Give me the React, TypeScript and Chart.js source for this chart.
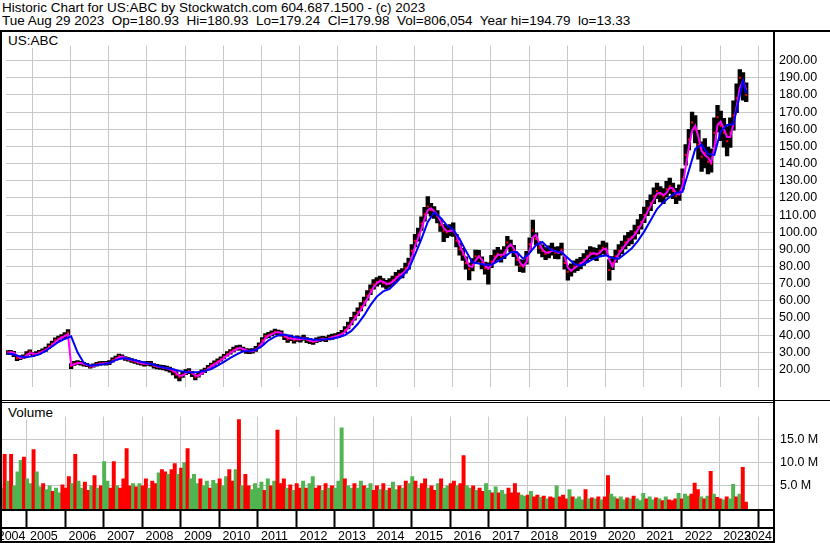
import React, { useEffect, useRef } from "react";
import { Chart, registerables } from "chart.js";

Chart.register(...registerables);

// ---------- DATA (monthly samples, first sample = May 2004) ----------
const firstMonth = 2004.35;

const closes = [
  30, 30.2, 29.5, 26.5, 26.8, 27.5, 28.8, 30.5, 28.5, 29, 30, 30.8,
  31.7, 33.5, 35, 37, 38, 39, 39.8, 41.5, 22, 23.5, 24, 23.6,
  23, 22.5, 21.5, 22.2, 23, 23.5, 23.6, 23.6, 23.8, 25.5, 26.5, 27.8,
  27.2, 26.3, 25.8, 25.2, 24.6, 24, 23.6, 23.2, 23.5, 23.4, 22, 21.6,
  21.3, 21, 20.6, 20, 18.8, 17, 15.5, 17, 18.5, 19, 17.5, 15.5,
  17, 18.5, 19.5, 21, 22.5, 23.6, 24.8, 26, 27.5, 29, 30.3, 31.5,
  32.4, 32.5, 31.5, 30.8, 30.6, 30.8, 32, 34, 37, 39.5, 40, 41,
  42, 41.5, 41, 39, 37.5, 38.5, 37, 38, 37.5, 38.5, 37, 36.5,
  36, 37, 37.5, 38, 37.5, 38.5, 39, 39.5, 40, 41, 43, 45.5,
  48, 51, 53.5, 56.5, 59.5, 63, 66.5, 69.5, 71, 72, 70.5, 69.5,
  70.5, 72, 74, 75.5, 76, 79, 81.5, 89, 95, 98.5, 105, 110.5,
  115, 113, 111.5, 109, 104, 101, 100, 101, 101.5, 95, 90, 87,
  82, 78.5, 81, 86, 86, 82, 79, 78.5, 83, 86, 87.5, 86,
  88, 94, 92, 89, 84, 80.5, 80, 85, 93, 101, 96, 91,
  89, 87.5, 88.5, 90, 88, 88, 90, 82, 77, 78, 80, 81,
  82, 84, 86, 88, 87.5, 87, 89, 91, 90, 78, 82, 86,
  89, 91, 94, 96, 97, 100, 103, 106, 110, 114, 117, 121,
  124, 122, 121, 125, 127, 124, 121, 123, 131, 145, 154, 164,
  160, 151, 144, 146, 141, 140, 158, 167, 162, 158, 153, 158,
  168, 178, 190, 186, 180,
];

const highs = [
  31, 31.2, 30.6, 28, 28, 28.6, 30.5, 31.5, 29.8, 30.4, 31.2, 32,
  33, 35, 36.5, 38.4, 39.5, 40.4, 41.5, 43.2, 23.4, 24.8, 25.2, 24.7,
  24.2, 23.6, 22.7, 23.3, 24.2, 24.6, 24.7, 24.8, 25.2, 26.8, 27.8, 29,
  28.5, 27.6, 27, 26.4, 25.8, 25.3, 24.8, 24.6, 24.8, 24.8, 23.4, 23,
  22.6, 22.4, 22, 21.4, 20.2, 18.8, 17.2, 18.6, 20, 20.5, 19, 17.2,
  18.4, 19.8, 20.8, 22.4, 23.8, 25, 26.2, 27.4, 28.8, 30.4, 31.6, 33,
  34, 34.2, 33, 32.2, 32, 32.2, 33.5, 35.6, 38.6, 41, 41.6, 42.6,
  43.6, 43, 42.5, 40.6, 39.2, 40, 38.6, 39.6, 39, 40, 38.6, 38,
  37.6, 38.4, 39, 39.4, 39, 40, 40.6, 41, 41.6, 42.8, 45, 47.6,
  50.4, 53.4, 56, 59, 62.2, 66, 69.4, 72.4, 73.5, 74.5, 73, 72,
  73, 74.5, 76.6, 78, 78.8, 82, 85, 92.8, 98.8, 102.4, 109, 114.5,
  120.8, 116.8, 115, 112.6, 107.8, 104.6, 103.4, 104.4, 105.4, 98.8, 93.6, 90.6,
  85.6, 82, 84.6, 89.6, 89.4, 85.6, 82.6, 82.2, 86.6, 89.6, 91.2, 89.6,
  91.6, 97.6, 95.4, 92.4, 87.6, 84, 83.6, 88.8, 96.8, 107, 99.6, 94.6,
  92.6, 91, 92, 93.6, 91.4, 91.6, 93.6, 85.8, 80.6, 81.6, 83.4, 84.4,
  85.4, 87.6, 89.6, 91.6, 91, 90.6, 92.6, 94.8, 93.8, 84, 85.8, 89.6,
  92.8, 94.8, 98, 100, 101, 104.2, 107.4, 110.4, 114.6, 118.6, 121.8, 125.8,
  128.6, 126.6, 125.4, 129.6, 131.6, 128.6, 125.6, 127.6, 137, 151, 160, 170,
  168, 159.4, 152.6, 154.6, 149.6, 148.6, 166.6, 174, 170.6, 166.4, 161.6, 166.6,
  176.6, 186.4, 194.8, 193, 187,
];

const lows = [
  28.8, 29, 27.5, 25.2, 25.8, 26.5, 27.8, 28.8, 27.5, 28, 29, 29.8,
  30.6, 32.2, 33.8, 35.6, 36.8, 37.8, 38.6, 40, 20.5, 22.4, 23, 22.6,
  22, 21.6, 20.8, 21.3, 22, 22.6, 22.7, 22.6, 22.8, 24.3, 25.4, 26.6,
  26.2, 25.3, 24.8, 24.2, 23.5, 23, 22.6, 22, 22.4, 22, 20.8, 20.4,
  20, 19.8, 19.2, 18.4, 16.8, 15, 13.3, 15.4, 17, 17.6, 15.8, 14,
  15.6, 17.2, 18.2, 19.8, 21.2, 22.4, 23.6, 24.8, 26.2, 27.8, 29, 30.2,
  31.2, 31.2, 30.2, 29.4, 29.2, 29.5, 30.6, 32.6, 35.4, 38, 38.6, 39.6,
  40.4, 40, 39.4, 37.4, 35.8, 36.8, 35.4, 36.4, 36, 37, 35.6, 35,
  34.6, 35.6, 36.2, 36.6, 36.2, 37.2, 37.6, 38.2, 38.6, 39.6, 41.4, 43.6,
  46, 48.8, 51.4, 54.2, 57, 60.4, 63.6, 66.8, 68.6, 69.6, 68, 67,
  68, 69.6, 71.4, 73, 73.4, 76.2, 78.4, 85.4, 91.4, 94.8, 101, 106.4,
  111, 109.4, 108, 105.4, 100.4, 94.5, 96.8, 97.8, 97.6, 91.4, 86.6, 83.6,
  78.4, 72.2, 77.4, 82.4, 82.6, 78.6, 75.6, 69.8, 79.4, 82.6, 84, 82.6,
  84.6, 90.6, 88.6, 85.8, 80.6, 77, 76.6, 81.4, 89.4, 97.4, 92.6, 87.6,
  85.6, 84, 85, 86.6, 84.6, 84.4, 86.6, 78.4, 72, 74.4, 76.6, 77.6,
  78.6, 80.6, 82.6, 84.6, 84, 83.4, 85.6, 87.4, 86.4, 72, 78.2, 82.4,
  85.4, 87.4, 90.2, 92.2, 93.2, 96, 99, 101.8, 105.6, 109.6, 112.6, 116.6,
  119.6, 117.6, 116.6, 120.6, 122.6, 119.6, 116.6, 118.6, 125, 139, 148, 158,
  152, 142.6, 135.4, 137.4, 134, 135, 149.4, 158.4, 153.4, 149.6, 144.4, 149.4,
  159.4, 169.6, 181.4, 177, 176,
];

const shortAverage = [
  29.8, 30, 29.8, 28, 26.6, 27.1, 28.1, 29.6, 29.4, 28.8, 29.5, 30.4,
  31.2, 32.6, 34.2, 36, 37.5, 38.5, 39.4, 40.6, 22.5, 23, 23.8, 23.8,
  23.3, 22.8, 22, 21.9, 22.6, 23.2, 23.5, 23.6, 23.7, 24.6, 26, 27.1,
  27.5, 26.8, 26, 25.5, 24.9, 24.3, 23.8, 23.4, 23.4, 23.4, 22.7, 21.8,
  21.4, 21.1, 20.8, 20.3, 19.4, 18, 16.3, 16.3, 17.8, 18.8, 18.3, 16.5,
  16.3, 17.8, 19, 20.3, 21.8, 23, 24.2, 25.4, 26.8, 28.2, 29.6, 30.9,
  32, 32.5, 32, 31.2, 30.7, 30.7, 31.4, 33, 35.5, 38.2, 39.8, 40.5,
  41.5, 41.8, 41.2, 40, 38.3, 38, 37.8, 37.5, 37.8, 38, 37.8, 36.8,
  36.3, 36.5, 37.2, 37.8, 37.8, 38, 38.8, 39.2, 39.8, 40.5, 42, 44.2,
  46.8, 49.5, 52.2, 55, 58, 61.2, 64.8, 68, 70.3, 71.5, 71.2, 70,
  70, 71.2, 73, 74.8, 75.8, 77.5, 80.2, 85.2, 92, 96.8, 101.8, 107.8,
  112.8, 114, 112.2, 110.2, 106.5, 102.5, 100.5, 100.5, 101.2, 98.2, 92.5, 88.5,
  84.5, 80.2, 79.8, 83.5, 86, 84, 80.5, 78.8, 80.8, 84.5, 86.8, 86.8,
  87, 91, 93, 90.5, 86.5, 82.2, 80.2, 82.5, 89, 97, 98.5, 93.5,
  90, 88.2, 88, 89.2, 89, 88, 89, 86, 79.5, 77.5, 79, 80.5,
  81.5, 83, 85, 87, 87.8, 87.2, 88, 90, 90.5, 84, 80, 84,
  87.5, 90, 92.5, 95, 96.5, 98.5, 101.5, 104.5, 108, 112, 115.5, 119,
  122.5, 123, 121.5, 123, 126, 125.5, 122.5, 122, 127, 138, 149.5, 159,
  162, 155.5, 147.5, 145, 143.5, 140.5, 149, 162.5, 164.5, 160, 155.5, 155.5,
  163, 173, 184, 188, 183,
];

const longAverage = [
  29.5, null, 28.8, null, 27.6, null, 27.2, null, 27.8, null, 28.8, null,
  30.8, null, 33.4, null, 36, null, 37.8, null, 39.3, null, 30, null,
  23.8, null, 22.2, null, 22.6, null, 23.1, null, 23.8, null, 25.5, null,
  26.5, null, 26.3, null, 25.4, null, 24.5, null, 23.6, null, 22.8, null,
  21.6, null, 20.7, null, 20.1, null, 19.2, null, 18.6, null, 18.3, null,
  18.5, null, 19.2, null, 20.3, null, 22.3, null, 24.5, null, 26.8, null,
  28.8, null, 30.6, null, 30.8, null, 31.5, null, 33.8, null, 37, null,
  39.2, null, 40.4, null, 40, null, 39, null, 38.3, null, 37.9, null,
  37.5, null, 37.3, null, 37.6, null, 38.1, null, 38.8, null, 40, null,
  42.5, null, 46.5, null, 51.5, null, 57.5, null, 62.5, null, 65.5, null,
  67, null, 70.5, null, 74.5, null, 78.5, null, 87, null, 96, null,
  106, null, 111.5, null, 108.5, null, 104, null, 101.5, null, 96, null,
  89, null, 82.5, null, 81.8, null, 81, null, 81, null, 83.2, null,
  85.5, null, 88.3, null, 88.5, null, 84.5, null, 88, null, 92.5, null,
  94.3, null, 90.5, null, 88.8, null, 88.4, null, 85, null, 81.5, null,
  80.5, null, 82.5, null, 84.5, null, 86, null, 86.5, null, 85, null,
  84.5, null, 87.5, null, 90.5, null, 95, null, 100.5, null, 107, null,
  113.5, null, 117.5, null, 120.5, null, 123, null, 123.5, null, 136, null,
  148.5, null, 151, null, 145.5, null, 145, null, 159, null, 162.5, null,
  163, null, 180, 188, 181,
];

// volume in millions of shares
const volumes = [
  4.5, 11.8, 6, 11.8, 5, 8, 10.5, 11.2, 6.5, 5.5, 12.8, 8,
  4.8, 5.5, 4.2, 5, 3.8, 4.5, 3.5, 5.2, 4.5, 7, 5.5, 11.8,
  6, 4.5, 5.8, 4, 5, 7.2, 4.5, 5, 10.2, 6, 4.5, 10.2,
  5, 4.5, 6.5, 13, 5, 5.5, 4.8, 5.5, 5, 6.5, 4.5, 6,
  5.5, 7.8, 8.5, 8, 7.5, 8.5, 9.8, 7.5, 8.8, 10, 13, 6.5,
  7.5, 5.5, 6.5, 5, 6, 4.5, 6.2, 5.5, 6.5, 5, 7, 8.5,
  6, 8.5, 19.3, 5, 7.5, 5, 4.2, 5.5, 4.5, 5.8, 4, 6.5,
  5, 6, 17, 5.5, 6.5, 4.5, 5.2, 4, 5.5, 4.5, 6, 4.5,
  5.5, 7, 4.5, 5, 4, 5.5, 4.5, 5, 4.5, 6, 17.5, 6.5,
  5, 4.5, 5.5, 4.5, 6, 5, 4.5, 5.5, 4, 5, 4.2, 5.5,
  4, 4.5, 5.8, 4.2, 5, 4.5, 6, 5.5, 7, 6, 4.5, 5.5,
  6.5, 4.5, 5, 4, 5.5, 6.5, 4.5, 5, 5.5, 6, 5, 5.5,
  11.5, 5, 4.5, 5, 4, 4.5, 3.8, 5.5, 4, 3.5, 4.8, 3.5,
  4, 3.2, 4.5, 3.5, 5.5, 3.5, 3, 2.8, 3, 3.8, 2.6, 3,
  2.5, 2.8, 2.2, 2.6, 2.4, 5, 2.6, 3, 2.2, 4.2, 2.6, 2.2,
  2.6, 2, 4.2, 2.2, 2.4, 2.2, 2.6, 2, 2.6, 7.2, 3.2, 2.6,
  2.2, 2.6, 2, 2.4, 2.2, 2.8, 2.2, 1.8, 3.4, 2.2, 2.6, 2,
  2.4, 2.2, 1.8, 2.6, 2, 1.8, 2.2, 3.4, 2.2, 3.2, 2.8, 3.2,
  5.6, 4.2, 2.6, 2.2, 2.8, 8.1, 3.2, 2.5, 2.2, 2, 2.6, 2.2,
  5.3, 2.6, 3.2, 9, 1.5,
];

// direction of each sample: G = up, R = down
const volumeDirection = (
  "GRGRGGGRGG" + "RGGRGGRGGR" + "RRGRGGRRGR" + "GRGGRRGRRR" + "RGRGRRGRRG" +
  "RRGRRGRGRG" + "GGRGGRGGRG" + "GRRGRGRRGG" + "GGRGRGRRRG" + "RGRRGRGGRR" +
  "GRGRGGGRGG" + "RGGRGGRRGR" + "GRGGRGRGGR" + "GRRGRRGRGG" + "RRGRRGGRGR" +
  "RGGRGRGGRR" + "RRGGRGRRGR" + "GRRGRRRGRG" + "GGRGRGRGRR" + "GGRGGRGRGG" +
  "GRGGRGRGRR" + "RGRGGRRRGR" + "GRGRRGRGGR" + "GRR"
).split("");

const yearTicks = [2005, 2006, 2007, 2008, 2009, 2010, 2011, 2012, 2013, 2014, 2015, 2016, 2017, 2018, 2019, 2020, 2021, 2022, 2023, 2024];
const yearLabels = [2004, 2005, 2006, 2007, 2008, 2009, 2010, 2011, 2012, 2013, 2014, 2015, 2016, 2017, 2018, 2019, 2020, 2021, 2022, 2023, 2024];
const priceTicks = [20, 30, 40, 50, 60, 70, 80, 90, 100, 110, 120, 130, 140, 150, 160, 170, 180, 190, 200];
const volumeTicks = [5, 10, 15];

const headerLine1 = "Historic Chart for US:ABC by Stockwatch.com 604.687.1500 - (c) 2023";
const headerLine2 = "Tue Aug 29 2023  Op=180.93  Hi=180.93  Lo=179.24  Cl=179.98  Vol=806,054  Year hi=194.79  lo=13.33";
const symbolLabel = "US:ABC";
const volumeLabel = "Volume";

// ---------- STYLE / LAYOUT ----------
const X_MIN = 2004.312;
const X_MAX = 2024.385;
const PRICE_MIN = 10.1;
const PRICE_MAX = 208.8;
const VOL_MAX = 19.94;
const FONT = '"Liberation Sans", Arial, sans-serif';
const GRID = "#c8c8c8";
const RED = "#ff0000";
const GREEN = "#50b450";

const monthX = (i: number) => firstMonth + i / 12;

export default function App() {
  const priceRef = useRef<HTMLCanvasElement | null>(null);
  const volRef = useRef<HTMLCanvasElement | null>(null);

  useEffect(() => {
    document.body.style.margin = "0";
    Chart.defaults.font.family = FONT;

    const rangePts = closes.map((_, i) => ({ x: monthX(i), y: [lows[i], highs[i]] }));
    const closePts = closes.map((c, i) => ({ x: monthX(i), y: c }));
    const shortPts = shortAverage.map((v, i) => ({ x: monthX(i), y: v }));
    const longPts = longAverage.map((v, i) => ({ x: monthX(i), y: v }));
    const volPts = volumes.map((v, i) => ({ x: monthX(i), y: v }));
    const volColors = volumeDirection.map((d) => (d === "G" ? GREEN : RED));

    const xScale = (height: number, tickRow: boolean): any => ({
      type: "linear",
      min: X_MIN,
      max: X_MAX,
      offset: false,
      afterBuildTicks: (s: any) => {
        s.ticks = yearTicks.map((v) => ({ value: v }));
      },
      afterFit: (s: any) => {
        s.height = height;
      },
      ticks: { display: false },
      grid: {
        color: GRID,
        offset: false,
        drawTicks: tickRow,
        tickLength: 18,
        tickColor: "#000",
        tickWidth: 2,
      },
      border: { display: false },
    });

    const price = new Chart(priceRef.current as HTMLCanvasElement, {
      type: "bar",
      data: {
        datasets: [
          { type: "line", data: longPts, borderColor: "#0000ff", borderWidth: 2, pointRadius: 0, spanGaps: true, order: 1 } as any,
          { type: "line", data: shortPts, borderColor: "#ff00ff", borderWidth: 2, pointRadius: 0, order: 2 } as any,
          {
            type: "line",
            data: closePts,
            showLine: false,
            pointStyle: "line",
            pointRadius: 1,
            pointBorderWidth: 2,
            borderColor: RED,
            pointBorderColor: RED,
            order: 3,
          } as any,
          { type: "bar", data: rangePts, backgroundColor: "#000", barThickness: 3.7, order: 4 } as any,
        ],
      },
      options: {
        responsive: false,
        animation: false,
        devicePixelRatio: 1,
        events: [],
        layout: { padding: 0 },
        plugins: { legend: { display: false }, tooltip: { enabled: false } },
        scales: {
          x: xScale(0, false),
          y: {
            type: "linear",
            position: "right",
            min: PRICE_MIN,
            max: PRICE_MAX,
            afterBuildTicks: (s: any) => {
              s.ticks = priceTicks.map((v) => ({ value: v }));
            },
            afterFit: (s: any) => {
              s.width = 57;
            },
            ticks: {
              autoSkip: false,
              padding: 6,
              color: "#000",
              font: { size: 12.5, family: FONT },
              callback: (v: any) => Number(v).toFixed(2),
            },
            grid: { color: GRID, drawTicks: false },
            border: { display: false },
          },
        },
      } as any,
    });

    const labelPlugin = {
      id: "yearLabels",
      afterDraw(chart: any) {
        const ctx = chart.ctx;
        const xs = chart.scales.x;
        const right = chart.chartArea.right;
        ctx.save();
        ctx.beginPath();
        ctx.rect(0, 0, right, chart.height);
        ctx.clip();
        ctx.font = `12.5px ${FONT}`;
        ctx.fillStyle = "#000";
        ctx.textBaseline = "alphabetic";
        const base = 137.5;
        yearLabels.forEach((yr, idx) => {
          if (idx === 0) {
            ctx.textAlign = "right";
            ctx.fillText(String(yr), xs.getPixelForValue(yr + 1) - 1, base);
          } else if (idx === yearLabels.length - 1) {
            ctx.textAlign = "right";
            ctx.fillText(String(yr), right - 1, base);
          } else {
            ctx.textAlign = "left";
            ctx.fillText(String(yr), xs.getPixelForValue(yr) + 3.5, base);
          }
        });
        ctx.restore();
      },
    };

    const vol = new Chart(volRef.current as HTMLCanvasElement, {
      type: "bar",
      data: {
        datasets: [
          { type: "bar", data: volPts, backgroundColor: volColors, barThickness: 3.3 } as any,
        ],
      },
      options: {
        responsive: false,
        animation: false,
        devicePixelRatio: 1,
        events: [],
        layout: { padding: 0 },
        plugins: { legend: { display: false }, tooltip: { enabled: false } },
        scales: {
          x: xScale(34, true),
          y: {
            type: "linear",
            position: "right",
            min: 0,
            max: VOL_MAX,
            afterBuildTicks: (s: any) => {
              s.ticks = volumeTicks.map((v) => ({ value: v }));
            },
            afterFit: (s: any) => {
              s.width = 57;
            },
            ticks: {
              autoSkip: false,
              padding: 7,
              color: "#000",
              font: { size: 12.5, family: FONT },
              callback: (v: any) => Number(v).toFixed(1) + " M",
            },
            grid: { color: GRID, drawTicks: false },
            border: { display: false },
          },
        },
      } as any,
      plugins: [labelPlugin],
    });

    return () => {
      price.destroy();
      vol.destroy();
    };
  }, []);

  const line = (left: number, top: number, width: number, height: number) => (
    <div style={{ position: "absolute", left, top, width, height, background: "#000" }} />
  );

  const textStyle: React.CSSProperties = {
    position: "absolute",
    whiteSpace: "pre",
    fontFamily: FONT,
    fontSize: 13.5,
    lineHeight: "13.5px",
    color: "#000",
  };

  return (
    <div
      style={{
        position: "absolute",
        left: 0,
        top: 0,
        width: 830,
        height: 543,
        overflow: "hidden",
        background: "#fff",
      }}
    >
      <div style={{ ...textStyle, left: 2, top: 0.5 }}>{headerLine1}</div>
      <div style={{ ...textStyle, left: 2, top: 14 }}>{headerLine2}</div>
      <canvas
        ref={priceRef}
        width={830}
        height={368}
        style={{ position: "absolute", left: 0, top: 32, width: 830, height: 368 }}
      />
      <canvas
        ref={volRef}
        width={830}
        height={141}
        style={{ position: "absolute", left: 0, top: 402, width: 830, height: 141 }}
      />
      <div style={{ position: "absolute", left: 2, top: 32, width: 62, height: 16, background: "#fff" }}>
        <div style={{ ...textStyle, left: 6, top: 1.5 }}>{symbolLabel}</div>
      </div>
      <div style={{ position: "absolute", left: 2, top: 404, width: 56, height: 16, background: "#fff" }}>
        <div style={{ ...textStyle, left: 6, top: 2 }}>{volumeLabel}</div>
      </div>
      {line(0, 30, 830, 2)}
      {line(0, 30, 2, 513)}
      {line(773, 30, 2, 513)}
      {line(0, 400, 830, 1)}
      {line(0, 402, 775, 1)}
      {line(0, 509, 775, 2)}
      {line(0, 527, 775, 2)}
      {line(0, 541, 775, 2)}
    </div>
  );
}
